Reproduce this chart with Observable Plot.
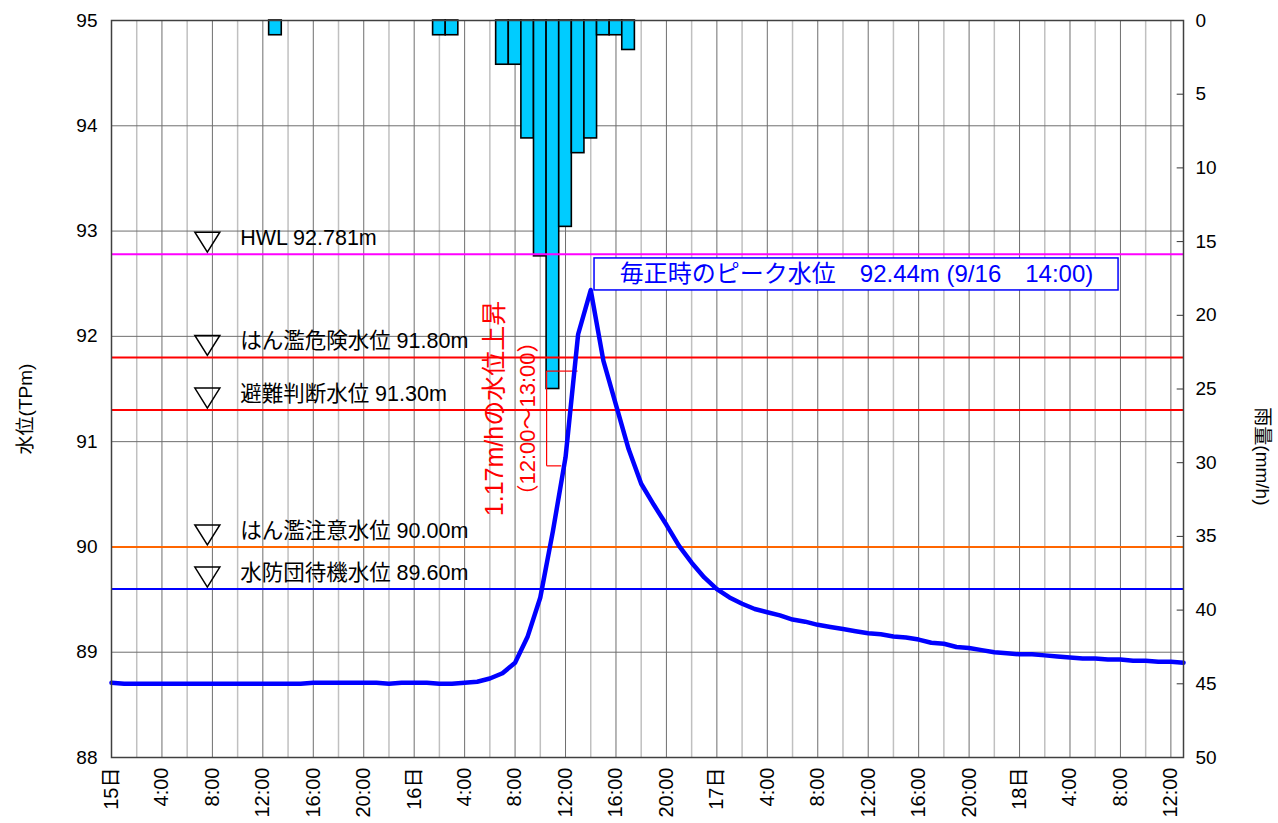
<!DOCTYPE html>
<html><head><meta charset="utf-8">
<script src="https://cdn.jsdelivr.net/npm/d3@7"></script>
<script src="https://cdn.jsdelivr.net/npm/@observablehq/plot@0.6"></script>
<style>html,body{margin:0;padding:0;background:#fff}</style>
</head><body><div id="chart"></div>
<script>
// ---- data ----
const hours = d3.range(0, 86); // hours since 9/15 0:00
const waterLevel = [
  88.71,88.70,88.70,88.70,88.70,88.70,88.70,88.70,88.70,88.70,
  88.70,88.70,88.70,88.70,88.70,88.70,88.71,88.71,88.71,88.71,
  88.71,88.71,88.70,88.71,88.71,88.71,88.70,88.70,88.71,88.72,
  88.75,88.80,88.90,89.15,89.52,90.15,90.85,92.02,92.44,91.77,
  91.35,90.93,90.60,90.40,90.21,90.01,89.85,89.71,89.60,89.52,
  89.46,89.41,89.38,89.35,89.31,89.29,89.26,89.24,89.22,89.20,
  89.18,89.17,89.15,89.14,89.12,89.09,89.08,89.05,89.04,89.02,
  89.00,88.99,88.98,88.98,88.97,88.96,88.95,88.94,88.94,88.93,
  88.93,88.92,88.92,88.91,88.91,88.90
];
const rainHours = [13, 26, 27, 31, 32, 33, 34, 35, 36, 37, 38, 39, 40, 41];
const rainfall  = [ 1,  1,  1,  3,  3,  8, 16, 25, 14,  9,  8,  1,  1,  2];
const levelValues = [92.781, 91.80, 91.30, 90.00, 89.60];
const levelNames = ["HWL 92.781m", "はん濫危険水位 91.80m", "避難判断水位 91.30m", "はん濫注意水位 90.00m", "水防団待機水位 89.60m"];
const levelColors = ["#ff00ff", "#ff0000", "#ff0000", "#ff6600", "#0000ff"];
const xTickHours = d3.range(0, 85, 4);
const xTickLabels = xTickHours.map(h => h % 24 === 0 ? `${15 + h / 24}日` : `${h % 24}:00`);
const gridHours = d3.range(2, 85, 2);
const yTicks = d3.range(88, 96);
const rainTicks = d3.range(0, 51, 5);
const yTitle = "水位(TPm)";
const rainTitle = "雨量(mm/h)";
const peakLabel = "毎正時のピーク水位　92.44m (9/16　14:00)";
const rateLabel = "1.17m/hの水位上昇";
const rateRange = "（12:00～13:00）";

// annotation anchors (data coordinates)
const peakBox = {x1: 38.3, x2: 79.85, y1: 92.436, y2: 92.74};
const rateBracket = {x: 34.5, yLow: 90.77, yHigh: 91.67, xLowEnd: 35.66, xHighEnd: 36.95};
const rateText = [{t: rateLabel, x: 30.37, y: 91.315, size: 25}, {t: rateRange, x: 33.06, y: 91.22, size: 22}];
const titleAnchors = [{t: yTitle, x: -6.82, y: 91.31, rotate: -90}, {t: rainTitle, x: 91.2, y: 90.86, rotate: 90}];
const markerHour = 7.6, labelHour = 10.2;

// ---- helpers ----
const rainToY = r => 95 - r * 7 / 50;
const levels = levelValues.map((v, i) => ({value: v, name: levelNames[i], color: levelColors[i]}));
const rain = rainHours.map((h, i) => ({h, r: rainfall[i]}));
const triDown = {draw(ctx, size) {
  const r = Math.sqrt(size / Math.PI);
  ctx.moveTo(-r, -0.8 * r); ctx.lineTo(r, -0.8 * r); ctx.lineTo(0, 0.8 * r); ctx.closePath();
}};
const font = '"Liberation Sans", Arial, "Noto Sans CJK JP", sans-serif';

const chart = Plot.plot({
  width: 1278, height: 823,
  marginLeft: 111, marginRight: 95, marginTop: 20, marginBottom: 66,
  x: {domain: [0, 85]},
  y: {domain: [88, 95]},
  style: {fontFamily: font, background: "white", color: "#000"},
  marks: [
    Plot.ruleX(gridHours.filter(h => h % 4 !== 0), {stroke: "#c0c0c0", strokeWidth: 1.5, strokeOpacity: 1}),
    Plot.ruleX(gridHours.filter(h => h % 4 === 0), {stroke: "#6e6e6e", strokeWidth: 1, strokeOpacity: 1}),
    Plot.ruleY(yTicks.slice(1, -1), {stroke: "#6e6e6e", strokeWidth: 1}),
    Plot.rect(rain, {x1: d => d.h - 0.5, x2: d => d.h + 0.5, y1: 95, y2: d => rainToY(d.r),
      fill: "#00ccff", stroke: "#000", strokeWidth: 1.6}),
    ...levels.map(l => Plot.ruleY([l.value], {stroke: l.color, strokeWidth: 2})),
    Plot.dot(levels, {x: () => markerHour, y: "value", dy: -12, symbol: triDown, r: 12.5,
      stroke: "#000", fill: "none", strokeWidth: 1.5}),
    Plot.text(levels, {x: () => labelHour, y: "value", dy: -16, text: "name", textAnchor: "start",
      fontSize: 21.5, fill: "#000"}),
    Plot.rect([peakBox], {x1: "x1", x2: "x2", y1: "y1", y2: "y2", fill: "white", stroke: "#0000ff", strokeWidth: 1.5}),
    Plot.text([peakBox], {x: d => (d.x1 + d.x2) / 2, y: d => (d.y1 + d.y2) / 2, text: () => peakLabel,
      fill: "#0000ff", fontSize: 24}),
    Plot.link([rateBracket], {x1: "x", x2: "x", y1: "yLow", y2: "yHigh", stroke: "#ff0000", strokeWidth: 1.2}),
    Plot.link([rateBracket], {x1: "x", x2: "xHighEnd", y1: "yHigh", y2: "yHigh", stroke: "#ff0000", strokeWidth: 1.2}),
    Plot.link([rateBracket], {x1: "x", x2: "xLowEnd", y1: "yLow", y2: "yLow", stroke: "#ff0000", strokeWidth: 1.2}),
    ...rateText.map(d => Plot.text([d], {x: "x", y: "y", text: "t", rotate: -90, fill: "#ff0000", fontSize: d.size})),
    Plot.line(hours, {x: h => h, y: h => waterLevel[h], stroke: "#0000ff", strokeWidth: 4.5, strokeLinejoin: "round"}),
    Plot.ruleY(rainTicks.map(rainToY), {x1: 84.5, x2: 85, stroke: "#333"}),
    Plot.frame({stroke: "#404040", strokeWidth: 1.5}),
    Plot.axisY(yTicks, {anchor: "left", tickSize: 0, tickPadding: 14, fontSize: 19, label: null, tickFormat: d => String(d)}),
    Plot.axisY(rainTicks.map(rainToY), {anchor: "right", tickSize: 0, tickPadding: 12, fontSize: 19, label: null,
      tickFormat: d => String(Math.round((95 - d) * 50 / 7))}),
    Plot.axisX(xTickHours, {anchor: "bottom", tickSize: 0, tickPadding: 10, tickRotate: -90, fontSize: 20, label: null,
      tickFormat: h => xTickLabels[xTickHours.indexOf(h)]}),
    ...titleAnchors.map(d => Plot.text([d], {x: "x", y: "y", text: "t", rotate: d.rotate, fontSize: 19}))
  ]
});
document.getElementById("chart").appendChild(chart);
</script>
</body></html>
